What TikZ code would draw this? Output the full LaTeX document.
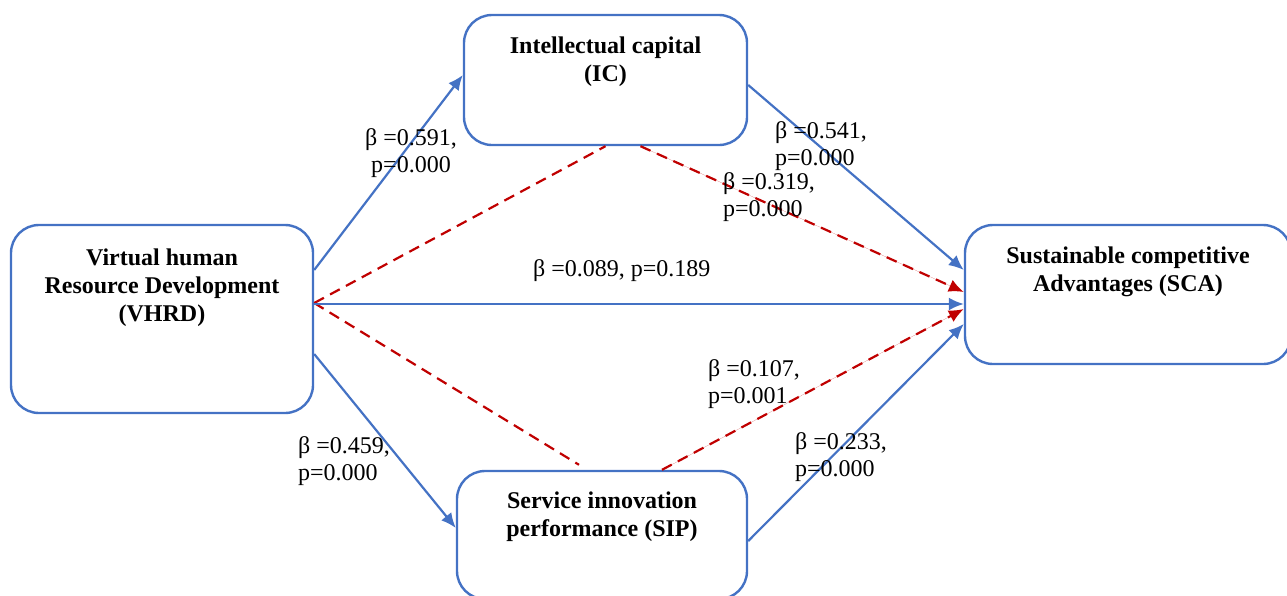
\documentclass[tikz,border=0pt]{standalone}
\usepackage{fontspec}
\setmainfont{Liberation Serif}
\usepackage{tikz}
\usetikzlibrary{positioning,arrows.meta}
\tikzset{>={Latex[length=15pt,width=13pt]}}
\definecolor{boxblue}{HTML}{4472C4}
\definecolor{pathred}{HTML}{C00000}
\tikzset{
  varbox/.style={draw=boxblue, line width=2.4pt, rounded corners=28pt, inner sep=0pt},
  boxtitle/.style={font=\fontsize{24}{28}\selectfont\bfseries, align=center, inner sep=0pt, anchor=base},
  coef/.style={font=\fontsize{24}{26.5}\selectfont, align=left, inner sep=0pt, anchor=base west},
  direct/.style={->, draw=boxblue, line width=2.2pt},
  indirect/.style={draw=pathred, line width=2.2pt, dash pattern=on 11pt off 7pt},
}

\begin{document}
\begin{tikzpicture}[x=1pt,y=-1pt]
\useasboundingbox (0,0) rectangle (1287,595);

% variables
\node[varbox, minimum width=302pt, minimum height=188pt] (vhrd) at (162,319) {};
\node[varbox, minimum width=283pt, minimum height=130pt] (ic) at (605.5,80) {};
\node[varbox, minimum width=290pt, minimum height=128pt] (sip) at (602,535) {};
\node[varbox, minimum width=326pt, minimum height=139pt] (sca) at (1128,294.5) {};

% titles (base = last line)
\node[boxtitle] (vhrdtxt) at ([yshift=-98pt]vhrd.north) {Virtual human\\Resource Development\\(VHRD)};
\node[boxtitle] (ictxt) at ([yshift=-68pt]ic.north) {Intellectual capital\\(IC)};
\node[boxtitle] (siptxt) at ([yshift=-67pt]sip.north) {Service innovation\\performance (SIP)};
\node[boxtitle] (scatxt) at ([yshift=-68pt]sca.north) {Sustainable competitive\\Advantages (SCA)};

% mediation paths
\draw[indirect] ([yshift=16pt]vhrd.east) -- (ic.south);
\draw[indirect, ->, fill=pathred] ([xshift=35pt]ic.south) -- ([yshift=2.5pt]sca.west);
\draw[indirect] ([yshift=16pt]vhrd.east) -- ([xshift=-23pt,yshift=5pt]sip.north);
\draw[indirect, ->, fill=pathred] ([xshift=60pt]sip.north) -- ([yshift=-14.5pt]sca.west);

% direct paths
\draw[direct] ([yshift=49pt]vhrd.east) -- ([yshift=5pt]ic.west);
\draw[direct] ([yshift=-35pt]vhrd.east) -- ([yshift=7pt]sip.west);
\draw[direct] ([yshift=15pt]vhrd.east) -- ([yshift=-9.5pt]sca.west);
\draw[direct] ([yshift=-5pt]ic.east) -- ([yshift=24.5pt]sca.west);
\draw[direct] ([yshift=-6pt]sip.east) -- ([yshift=-29.5pt]sca.west);

% coefficients
\node[coef, align=center, anchor=base] (b1) at (411,172) {β =0.591,\\p=0.000};
\node[coef] (b2) at (775,165) {β =0.541,\\p=0.000};
\node[coef] (b3) at (723,216) {β =0.319,\\p=0.000};
\node[coef] (b4) at (533,276) {β =0.089, p=0.189};
\node[coef] (b5) at (298,480) {β =0.459,\\p=0.000};
\node[coef] (b6) at (708,403) {β =0.107,\\p=0.001};
\node[coef] (b7) at (795,476) {β =0.233,\\p=0.000};
\end{tikzpicture}
\end{document}
